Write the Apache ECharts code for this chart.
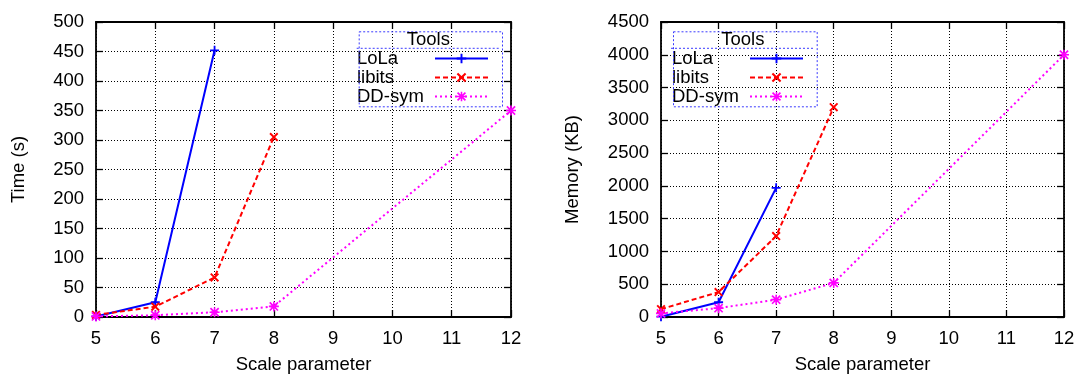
<!DOCTYPE html>
<html>
<head>
<meta charset="utf-8">
<script src="https://cdn.jsdelivr.net/npm/echarts@6/dist/echarts.min.js"></script>
<style>
html,body{margin:0;padding:0;background:#fff;}
#c{width:1079px;height:374px;}
</style>
</head>
<body>
<div id="c"></div>
<script>
// ---- data ----
const seriesNames = ['LoLa', 'libits', 'DD-sym'];
const lolaX = [5, 6, 7];
const libitsX = [5, 6, 7, 8];
const ddX = [5, 6, 7, 8, 12];
const lolaTime = [1, 25, 452];
const libitsTime = [3.5, 17.5, 67, 305];
const ddTime = [1, 3, 8, 18, 350];
const lolaMem = [5, 225, 1970];
const libitsMem = [120, 380, 1235, 3200];
const ddMem = [55, 135, 265, 520, 4000];
const xTitle = 'Scale parameter';
const yTitleLeft = 'Time (s)';
const yTitleRight = 'Memory (KB)';
const legendTitle = 'Tools';

// ---- style ----
const FONT = "'Liberation Sans', Arial, Helvetica, sans-serif";
const FS = 18.5;
const PLUS = 'path://M4,0H6V10H4Z M0,4H10V6H0Z';
const CROSS = 'path://M0,1.5L1.5,0L10,8.5L8.5,10Z M8.5,0L10,1.5L1.5,10L0,8.5Z';
const STAR = 'path://M4.2,0H5.8V10H4.2Z M0,4.2H10V5.8H0Z M0.3,1.5L1.5,0.3L9.7,8.5L8.5,9.7Z M8.5,0.3L9.7,1.5L1.5,9.7L0.3,8.5Z';
const styles = {
  'LoLa':   {color: '#0000ff', type: 'solid', symbol: PLUS, size: 9},
  'libits': {color: '#ff0000', type: [5, 3], symbol: CROSS, size: 9},
  'DD-sym': {color: '#ff00ff', type: [2, 3], symbol: STAR, size: 10}
};

function zip(xs, ys) { return xs.map((x, i) => [x, ys[i]]); }

function mkSeries(name, xs, ys, xi, yi) {
  const s = styles[name];
  return {
    name: name, type: 'line', xAxisIndex: xi, yAxisIndex: yi,
    data: zip(xs, ys),
    symbol: s.symbol, symbolSize: s.size,
    lineStyle: {color: s.color, width: 2, type: s.type},
    itemStyle: {color: s.color},
    showSymbol: true
  };
}

const grids = [
  {left: 96, right: 568, top: 22, bottom: 57, containLabel: false, outerBoundsMode: 'none'},
  {left: 661, right: 15, top: 22, bottom: 57, containLabel: false, outerBoundsMode: 'none'}
];

function xAxes(gi) {
  const base = {
    type: 'value', gridIndex: gi, min: 5, max: 12, interval: 1,
    axisLine: {show: true, onZero: false, lineStyle: {color: '#000', width: 1.8}},
    axisTick: {show: true, inside: true, length: 7, lineStyle: {color: '#000', width: 1.3}}
  };
  return [
    Object.assign({}, base, {
      position: 'bottom',
      name: xTitle, nameLocation: 'middle', nameGap: 38,
      nameTextStyle: {fontFamily: FONT, fontSize: FS, color: '#000'},
      axisLabel: {fontFamily: FONT, fontSize: FS, color: '#000', margin: 12, formatter: v => String(v)},
      splitLine: {show: true, lineStyle: {color: '#000', width: 1, type: [1, 2]}}
    }),
    Object.assign({}, base, {
      position: 'top', axisLabel: {show: false}, splitLine: {show: false}
    })
  ];
}

function yAxes(gi, max, interval, title, gap) {
  const base = {
    type: 'value', gridIndex: gi, min: 0, max: max, interval: interval,
    axisLine: {show: true, onZero: false, lineStyle: {color: '#000', width: 1.8}},
    axisTick: {show: true, inside: true, length: 7, lineStyle: {color: '#000', width: 1.3}}
  };
  return [
    Object.assign({}, base, {
      position: 'left',
      name: title, nameLocation: 'middle', nameGap: gap, nameRotate: 90,
      nameTextStyle: {fontFamily: FONT, fontSize: FS, color: '#000'},
      axisLabel: {fontFamily: FONT, fontSize: FS, color: '#000', margin: 12, formatter: v => String(v)},
      splitLine: {show: true, lineStyle: {color: '#000', width: 1, type: [1, 2]}}
    }),
    Object.assign({}, base, {
      position: 'right', axisLabel: {show: false}, splitLine: {show: false}
    })
  ];
}

function mkLegend(left) {
  return {
    orient: 'vertical', left: left, top: 49, padding: 0, itemGap: 0,
    align: 'right', itemWidth: 53, itemHeight: 12, selectedMode: false,
    data: seriesNames,
    formatter: n => '{a|' + n + '}',
    textStyle: {
      fontFamily: FONT, fontSize: FS, color: '#000', lineHeight: 19,
      rich: {a: {width: 73, align: 'left', fontFamily: FONT, fontSize: FS, color: '#000', lineHeight: 19}}
    }
  };
}

function legendBox(x, w) {
  const stroke = {stroke: '#3b3bff', lineWidth: 1, lineDash: [2, 2], fill: null};
  return [
    {type: 'rect', left: x, top: 29.3, shape: {width: w, height: 75}, style: stroke, z: 100, silent: true},
    {type: 'line', shape: {x1: x, y1: 48.3, x2: x + w, y2: 48.3}, style: stroke, z: 100, silent: true},
    {type: 'text', x: x + w / 2, y: 39.5, z: 100, silent: true,
     style: {text: legendTitle, font: FS + 'px ' + FONT, fill: '#000', align: 'center', verticalAlign: 'middle'}}
  ];
}

const chart = echarts.init(document.getElementById('c'), null, {renderer: 'canvas'});
chart.setOption({
  animation: false,
  backgroundColor: '#fff',
  grid: grids,
  xAxis: xAxes(0).concat(xAxes(1)),
  yAxis: yAxes(0, 500, 50, yTitleLeft, 68).concat(yAxes(1, 4500, 500, yTitleRight, 79)),
  legend: [mkLegend(357), mkLegend(672)],
  series: [
    mkSeries('LoLa', lolaX, lolaTime, 0, 0),
    mkSeries('libits', libitsX, libitsTime, 0, 0),
    mkSeries('DD-sym', ddX, ddTime, 0, 0),
    mkSeries('LoLa', lolaX, lolaMem, 2, 2),
    mkSeries('libits', libitsX, libitsMem, 2, 2),
    mkSeries('DD-sym', ddX, ddMem, 2, 2)
  ],
  graphic: legendBox(356.7, 143.3).concat(legendBox(671, 143.7))
});
</script>
</body>
</html>
